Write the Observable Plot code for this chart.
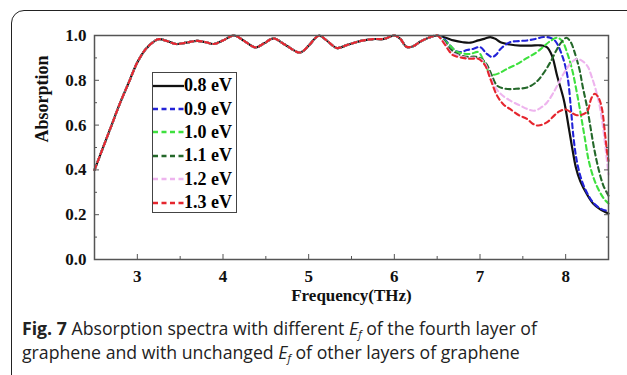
<!DOCTYPE html>
<html>
<head>
<meta charset="utf-8">
<script src="https://cdn.jsdelivr.net/npm/d3@7"></script>
<script src="https://cdn.jsdelivr.net/npm/@observablehq/plot@0.6"></script>
<style>
  html, body { margin: 0; padding: 0; background: #fff; }
  #wrap { position: relative; width: 627px; height: 375px; overflow: hidden; background: #fff; }
  #border { position: absolute; left: 11px; top: 10px; width: 660px; height: 420px; border: 1.6px solid #222; border-radius: 13px; box-sizing: border-box; }
  #chart { position: absolute; left: 0; top: 0; }
  #legend { position: absolute; left: 152px; top: 72px; width: 85px; height: 141px; border: 1.5px solid #444; background: #fff; box-sizing: border-box; font-family: "Liberation Serif", serif; font-weight: bold; font-size: 18px; padding-top: 1px; }
  .row { display: flex; align-items: center; height: 23.4px; white-space: nowrap; }
  .row svg { flex: none; }
  #caption { position: absolute; left: 22px; top: 316px; width: 605px; font-family: "Open Sans", sans-serif; font-size: 17.7px; line-height: 24px; color: #222; white-space: nowrap; }
  #caption b { font-weight: 700; }
  #caption sub { font-size: 11px; line-height: 0; vertical-align: -3px; }
</style>
</head>
<body>
<div id="wrap">
  <div id="border"></div>
  <div id="chart"></div>
  <div id="legend"></div>
  <div id="caption"><b>Fig. 7</b> Absorption spectra with different <i>E<sub>f</sub></i> of the fourth layer of<br>graphene and with unchanged <i>E<sub>f</sub></i> of other layers of graphene</div>
</div>
<script>
// Series labels and colours
const efLabels = ["0.8 eV", "0.9 eV", "1.0 eV", "1.1 eV", "1.2 eV", "1.3 eV"];
const efColors = ["#111111", "#2323d8", "#3ee03e", "#24682a", "#eeb4ee", "#e5262e"];
const efDashes = [null, "5,3.5", "5,3.5", "5,3.5", "5,3.5", "5,3.5"];

// Shared part of all curves (frequency THz, absorption)
const sharedFreq = [2.5, 2.6, 2.7, 2.8, 2.9, 3.0, 3.1, 3.2, 3.25, 3.35, 3.45, 3.57, 3.7, 3.8, 3.89, 4.0, 4.13, 4.25, 4.38, 4.48, 4.59, 4.72, 4.9, 5.0, 5.12, 5.22, 5.33, 5.45, 5.6, 5.75, 5.88, 6.0, 6.07, 6.14, 6.22, 6.3, 6.4, 6.5];
const sharedAbs  = [0.40, 0.50, 0.60, 0.70, 0.79, 0.88, 0.94, 0.975, 0.984, 0.975, 0.962, 0.968, 0.976, 0.97, 0.962, 0.978, 1.0, 0.975, 0.947, 0.965, 0.987, 0.96, 0.924, 0.955, 0.999, 0.975, 0.944, 0.958, 0.975, 0.984, 0.985, 1.0, 0.985, 0.95, 0.952, 0.972, 0.99, 1.0];

// Individual tails after 6.5 THz
const freq08 = [6.6, 6.69, 6.8, 6.89, 6.98, 7.05, 7.12, 7.18, 7.24, 7.35, 7.47, 7.6, 7.7, 7.78, 7.84, 7.9, 7.98, 8.04, 8.08, 8.12, 8.17, 8.25, 8.32, 8.4, 8.5];
const abs08  = [0.99, 0.978, 0.97, 0.968, 0.978, 0.985, 0.993, 0.985, 0.97, 0.96, 0.955, 0.955, 0.956, 0.948, 0.91, 0.82, 0.71, 0.58, 0.49, 0.41, 0.35, 0.29, 0.25, 0.225, 0.205];

const freq09 = [6.58, 6.65, 6.72, 6.77, 6.85, 6.92, 7.0, 7.08, 7.14, 7.19, 7.24, 7.35, 7.45, 7.55, 7.65, 7.74, 7.82, 7.88, 7.96, 8.02, 8.06, 8.09, 8.13, 8.19, 8.26, 8.33, 8.42, 8.5];
const abs09  = [0.985, 0.955, 0.93, 0.926, 0.935, 0.94, 0.948, 0.918, 0.904, 0.915, 0.94, 0.97, 0.975, 0.978, 0.985, 0.993, 0.99, 0.975, 0.909, 0.82, 0.68, 0.55, 0.44, 0.35, 0.29, 0.25, 0.225, 0.215];

const freq10 = [6.58, 6.65, 6.72, 6.8, 6.89, 6.98, 7.04, 7.1, 7.16, 7.24, 7.31, 7.43, 7.55, 7.66, 7.74, 7.82, 7.9, 7.96, 8.02, 8.08, 8.13, 8.18, 8.22, 8.27, 8.33, 8.4, 8.46, 8.5];
const abs10  = [0.98, 0.955, 0.93, 0.92, 0.918, 0.926, 0.889, 0.84, 0.825, 0.835, 0.85, 0.872, 0.9, 0.925, 0.95, 0.975, 0.99, 0.975, 0.92, 0.84, 0.746, 0.64, 0.55, 0.44, 0.36, 0.3, 0.265, 0.25];

const freq11 = [6.58, 6.65, 6.75, 6.85, 6.95, 7.02, 7.08, 7.14, 7.2, 7.3, 7.42, 7.55, 7.65, 7.72, 7.82, 7.9, 7.96, 8.01, 8.06, 8.1, 8.16, 8.2, 8.25, 8.29, 8.33, 8.38, 8.44, 8.5];
const abs11  = [0.975, 0.94, 0.915, 0.905, 0.905, 0.895, 0.87, 0.82, 0.776, 0.762, 0.762, 0.768, 0.79, 0.82, 0.88, 0.94, 0.975, 0.99, 0.97, 0.93, 0.85, 0.77, 0.68, 0.59, 0.5, 0.41, 0.33, 0.285];

const freq12 = [6.58, 6.65, 6.75, 6.85, 6.95, 7.04, 7.1, 7.16, 7.24, 7.35, 7.47, 7.55, 7.63, 7.7, 7.78, 7.85, 7.92, 8.0, 8.07, 8.13, 8.2, 8.26, 8.3, 8.35, 8.4, 8.44, 8.47, 8.5];
const abs12  = [0.97, 0.93, 0.91, 0.9, 0.9, 0.885, 0.84, 0.78, 0.74, 0.71, 0.687, 0.672, 0.664, 0.675, 0.7, 0.74, 0.79, 0.845, 0.88, 0.895, 0.885, 0.86, 0.82, 0.76, 0.68, 0.58, 0.48, 0.38];

const freq13 = [6.58, 6.65, 6.69, 6.8, 6.89, 6.98, 7.06, 7.12, 7.2, 7.28, 7.35, 7.45, 7.55, 7.62, 7.68, 7.78, 7.86, 7.92, 8.0, 8.07, 8.12, 8.18, 8.25, 8.3, 8.34, 8.38, 8.42, 8.46, 8.48, 8.5];
const abs13  = [0.965, 0.925, 0.911, 0.9, 0.896, 0.896, 0.866, 0.807, 0.731, 0.69, 0.672, 0.645, 0.627, 0.605, 0.598, 0.612, 0.64, 0.66, 0.67, 0.655, 0.645, 0.645, 0.66, 0.72, 0.74, 0.725, 0.68, 0.56, 0.49, 0.44];

// Axis ticks
const xMajor = [3, 4, 5, 6, 7, 8];
const xMinor = [2.5, 3.5, 4.5, 5.5, 6.5, 7.5, 8.5];
const yMajor = [0, 0.2, 0.4, 0.6, 0.8, 1.0];
const yMinor = [0.1, 0.3, 0.5, 0.7, 0.9];

const tails = [[freq08, abs08], [freq09, abs09], [freq10, abs10], [freq11, abs11], [freq12, abs12], [freq13, abs13]];
const series = tails.map(([f, a]) => {
  const pts = sharedFreq.map((x, i) => ({f: x, a: sharedAbs[i]}));
  f.forEach((x, i) => pts.push({f: x, a: a[i]}));
  return pts;
});

const lineMarks = series.map((pts, k) => Plot.line(pts, {
  x: "f", y: "a",
  stroke: efColors[k],
  strokeWidth: k === 0 ? 2.2 : 2.1,
  strokeDasharray: efDashes[k],
  curve: "catmull-rom"
}));

const chart = Plot.plot({
  width: 627,
  height: 310,
  marginLeft: 94,
  marginRight: 19,
  marginTop: 35,
  marginBottom: 51,
  style: {fontFamily: "'Liberation Serif', serif", fontWeight: "bold", fontSize: "17px", color: "#111", background: "transparent"},
  x: {domain: [2.5, 8.5], label: null},
  y: {domain: [0, 1.0], label: null},
  marks: [
    ...lineMarks,
    Plot.frame({stroke: "#555", strokeWidth: 1.5}),
    Plot.axisX({ticks: xMajor, tickSize: 0, tickPadding: 10, tickFormat: d => String(d), label: null, fontSize: 17, fontWeight: "bold"}),
    Plot.axisX({ticks: xMajor, tickSize: -5, tickFormat: () => "", label: null, stroke: "#555"}),
    Plot.axisX({ticks: xMinor, tickSize: -3, tickFormat: () => "", label: null, stroke: "#555"}),
    Plot.axisY({ticks: yMajor, tickSize: 0, tickPadding: 8, tickFormat: d => d.toFixed(1), label: null, fontSize: 17, fontWeight: "bold"}),
    Plot.axisY({ticks: yMajor, tickSize: -5, tickFormat: () => "", label: null, stroke: "#555"}),
    Plot.axisY({ticks: yMinor, tickSize: -3, tickFormat: () => "", label: null, stroke: "#555"}),
    Plot.axisY({anchor: "right", ticks: yMajor, tickSize: -5, tickFormat: () => "", label: null, stroke: "#555"}),
    Plot.axisY({anchor: "right", ticks: yMinor, tickSize: -3, tickFormat: () => "", label: null, stroke: "#555"}),
    Plot.text(["Frequency(THz)"], {frameAnchor: "bottom", dy: 41, fontSize: 17, fontWeight: "bold"}),
    Plot.text(["Absorption"], {frameAnchor: "left", dx: -52, dy: -5, rotate: -90, fontSize: 18, fontWeight: "bold"})
  ]
});
document.getElementById("chart").appendChild(chart);

// Legend
const legend = document.getElementById("legend");
efLabels.forEach((lab, k) => {
  const row = document.createElement("div");
  row.className = "row";
  const dash = efDashes[k] ? `stroke-dasharray="5,3.5"` : "";
  row.innerHTML = `<svg width="31" height="6"><line x1="0" y1="3" x2="31" y2="3" stroke="${efColors[k]}" stroke-width="2.3" ${dash}/></svg><span>${lab}</span>`;
  legend.appendChild(row);
});
</script>
</body>
</html>
